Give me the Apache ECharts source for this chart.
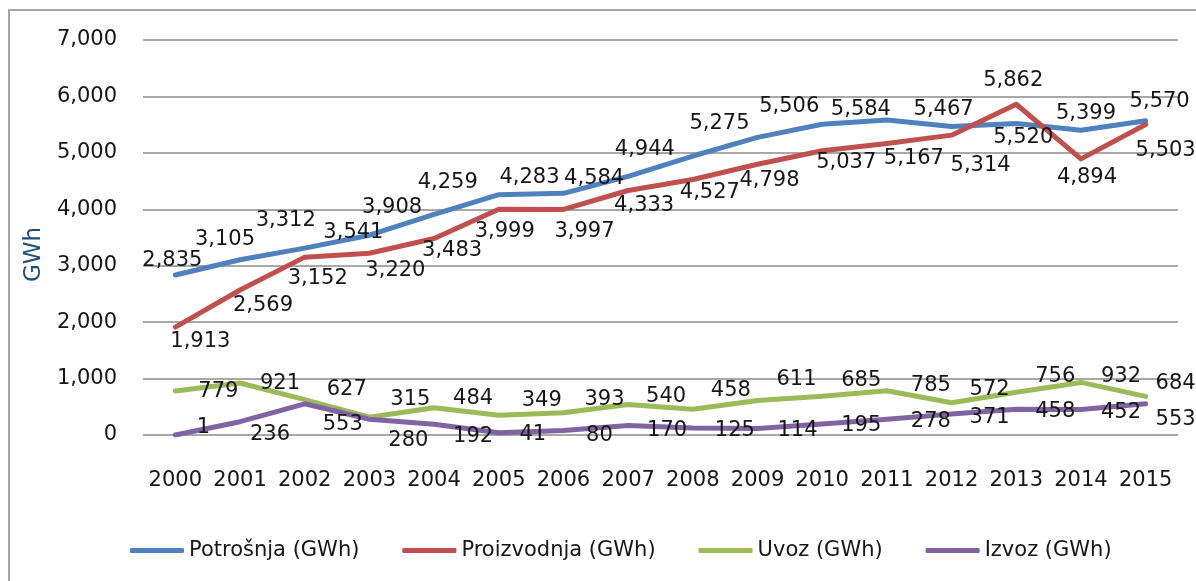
<!DOCTYPE html>
<html>
<head>
<meta charset="utf-8">
<script src="https://cdn.jsdelivr.net/npm/echarts@6/dist/echarts.min.js"></script>
<style>
html,body{margin:0;padding:0;background:#fff;}
#chart{width:1196px;height:581px;}
</style>
</head>
<body>
<div id="chart"></div>
<script>
// ---- data ----
const years = ['2000','2001','2002','2003','2004','2005','2006','2007','2008','2009','2010','2011','2012','2013','2014','2015'];
const potrosnja   = [2835, 3105, 3312, 3541, 3908, 4259, 4283, 4584, 4944, 5275, 5506, 5584, 5467, 5520, 5399, 5570];
const proizvodnja = [1913, 2569, 3152, 3220, 3483, 3999, 3997, 4333, 4527, 4798, 5037, 5167, 5314, 5862, 4894, 5503];
const uvoz        = [779, 921, 627, 315, 484, 349, 393, 540, 458, 611, 685, 785, 572, 756, 932, 684];
const izvoz       = [1, 236, 553, 280, 192, 41, 80, 170, 125, 114, 195, 278, 371, 458, 452, 553];
const seriesNames = ['Potrošnja (GWh)', 'Proizvodnja (GWh)', 'Uvoz (GWh)', 'Izvoz (GWh)'];
const yTicks = { min: 0, max: 7000, interval: 1000 };

// ---- label placement (style, offsets from the point) ----
const offPotrosnja = [[-3,-14],[-15,-20],[-19,-28],[-16,-3],[-42,-7],[-51,-12],[-34,-16],[-34,2],[-48,-6],[-38,-14],[-33,-18],[-26,-10],[-8,-17],[7,14],[5,-17],[14,-19]];
const offProizvodnja = [[25,14],[23,16],[13,21],[26,17],[18,12],[6,22],[21,22],[16,15],[17,13],[12,16],[24,12],[27,15],[29,30],[-3,-24],[6,19],[20,26]];
const offUvoz = [[43,1],[40,1],[42,-10],[41,-18],[39,-9],[43,-15],[41,-13],[38,-8],[38,-19],[39,-21],[39,-16],[44,-5],[38,-13],[39,-16],[40,-6],[30,-13]];
const offIzvoz = [[28,-7],[30,13],[38,21],[39,21],[39,12],[34,2],[36,5],[39,5],[42,3],[40,2],[39,2],[44,2],[38,3],[39,2],[40,3],[30,16]];

const colors = ['#4F81BD', '#C0504D', '#9BBB59', '#8064A2'];
const FONT = 'DejaVu Sans';
const TEXT = '#161616';
const fmt = v => Number(v).toLocaleString('en-US');

function mkSeries(name, values, offsets, color) {
  return {
    name: name,
    type: 'line',
    data: values.map((v, i) => ({ value: v, label: { offset: offsets[i] } })),
    symbol: 'circle',
    symbolSize: 1,
    showSymbol: true,
    itemStyle: { color: color },
    lineStyle: { color: color, width: 5, cap: 'round', join: 'round' },
    label: {
      show: true,
      position: 'inside',
      color: TEXT,
      fontFamily: FONT,
      fontSize: 21,
      formatter: p => fmt(p.value)
    },
    emphasis: { disabled: true },
    animation: false
  };
}

const chart = echarts.init(document.getElementById('chart'), null, { renderer: 'canvas' });
chart.setOption({
  animation: false,
  backgroundColor: '#fff',
  textStyle: { fontFamily: FONT },
  graphic: [{
    type: 'rect',
    shape: { x: 9, y: 10, width: 1400, height: 800 },
    style: { fill: 'none', stroke: '#a6a6a6', lineWidth: 2 },
    silent: true
  }],
  grid: { left: 143, right: 18, top: 40, bottom: 146, containLabel: false },
  xAxis: {
    type: 'category',
    data: years,
    boundaryGap: true,
    axisLine: { show: false },
    axisTick: { show: false },
    splitLine: { show: false },
    axisLabel: { color: TEXT, fontFamily: FONT, fontSize: 21, margin: 35, interval: 0 }
  },
  yAxis: {
    type: 'value',
    min: yTicks.min, max: yTicks.max, interval: yTicks.interval,
    name: 'GWh',
    nameLocation: 'middle',
    nameGap: 97,
    nameTextStyle: { color: '#1f4e79', fontFamily: FONT, fontSize: 23, padding: [0, 34, 0, 0] },
    axisLine: { show: false },
    axisTick: { show: false },
    splitLine: { lineStyle: { color: '#a8a8a8', width: 2 } },
    axisLabel: { color: TEXT, fontFamily: FONT, fontSize: 21, margin: 26, formatter: v => fmt(v) }
  },
  legend: {
    data: seriesNames,
    left: 125,
    top: 535,
    icon: 'roundRect',
    itemWidth: 54,
    itemHeight: 5,
    itemGap: 43,
    textStyle: { color: TEXT, fontFamily: FONT, fontSize: 21 }
  },
  series: [
    mkSeries(seriesNames[0], potrosnja, offPotrosnja, colors[0]),
    mkSeries(seriesNames[1], proizvodnja, offProizvodnja, colors[1]),
    mkSeries(seriesNames[2], uvoz, offUvoz, colors[2]),
    mkSeries(seriesNames[3], izvoz, offIzvoz, colors[3])
  ]
});
</script>
</body>
</html>
